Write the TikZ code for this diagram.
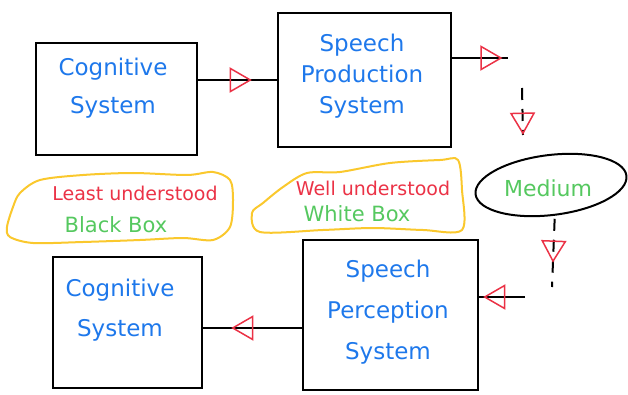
\documentclass[tikz,border=0pt]{standalone}
\usepackage{fontspec}
\setmainfont{DejaVu Sans}
\usetikzlibrary{shapes.geometric}
\definecolor{penblue}{RGB}{30,120,235}
\definecolor{penred}{RGB}{235,50,70}
\definecolor{pengreen}{RGB}{85,200,95}
\definecolor{penyellow}{RGB}{250,200,45}
\def\PenWidth{2pt}
\tikzset{
  sysbox/.style={draw, line width=\PenWidth, inner sep=0pt},
  boxtext/.style={text=penblue, align=center, font=\fontsize{23}{31}\selectfont},
  redtext/.style={text=penred, font=\fontsize{19}{22}\selectfont},
  greentext/.style={text=pengreen, font=\fontsize{21}{24}\selectfont},
  wire/.style={line width=\PenWidth},
  air/.style={line width=\PenWidth, dash pattern=on 12pt off 9pt},
  tri/.style={isosceles triangle, isosceles triangle apex angle=60, draw=penred, solid,
    line width=1.5pt, inner sep=0pt, minimum size=20pt, sloped, allow upside down},
  blob/.style={draw=penyellow, line width=2pt},
  medium/.style={ellipse, draw, line width=\PenWidth, minimum width=152pt,
    minimum height=60pt, rotate=7}
}
\begin{document}
\begin{tikzpicture}[x=1pt,y=-1pt]
  \useasboundingbox (0,0) rectangle (628,395);
  % systems
  \node[sysbox, minimum width=161pt, minimum height=112pt] (cogA) at (116,99) {};
  \node[sysbox, minimum width=173pt, minimum height=134pt] (prod) at (364,80) {};
  \node[sysbox, minimum width=149pt, minimum height=131pt] (cogB) at (127,322) {};
  \node[sysbox, minimum width=175pt, minimum height=150pt] (perc) at (390,315) {};
  \node[boxtext] (cogAtext) at (113,88) {Cognitive\\[7pt]System};
  \node[boxtext] (prodtext) at (362,76) {Speech\\Production\\System};
  \node[boxtext] (cogBtext) at (120,310) {Cognitive\\[9pt]System};
  \node[boxtext] (perctext) at (388,312) {Speech\\[10pt]Perception\\[10pt]System};
  % medium
  \node[medium] (med) at (551,185) {};
  \node[greentext, font=\fontsize{22}{26}\selectfont] (medtext) at (548,188) {Medium};
  % notes
  \draw[blob] plot[smooth cycle] coordinates {(20,193) (40,180) (83,175) (133,173)
    (187,175) (213,172) (230,180) (233,200) (230,227) (213,240) (183,238) (140,240)
    (83,242) (33,243) (10,237) (7,227) (13,207)};
  \draw[blob] plot[smooth cycle] coordinates {(307,173) (340,172) (390,163) (440,160)
    (458,160) (462,190) (462,230) (423,230) (373,228) (323,230) (260,232) (252,213)
    (263,203) (283,187)};
  \node[redtext] (least) at (135,193) {Least understood};
  \node[greentext] (black) at (116,225) {Black Box};
  \node[redtext] (well) at (373,188) {Well understood};
  \node[greentext] (white) at (357,214) {White Box};
  % connectors
  \coordinate (prodOut) at (508,58);
  \coordinate (airA) at (522,88);
  \coordinate (airB) at (523,135);
  \coordinate (airC) at (552,287);
  \coordinate (percIn) at (525,297);
  \draw[wire] (cogA.east |- prod.west) -- node[tri]{} (prod.west);
  \draw[wire] (prod.east |- prodOut) -- node[tri, pos=.64]{} (prodOut);
  \draw[air] (airA) -- node[tri, pos=.68]{} (airB);
  \draw[air, shorten <=3pt] (med.south) -- node[tri, pos=.45]{} (airC);
  \draw[wire] (percIn) -- node[tri, pos=.58]{} (perc.east |- percIn);
  \draw[wire] ([yshift=-13pt]perc.west) coordinate (percOut)
    -- node[tri, pos=.56]{} (cogB.east |- percOut);
\end{tikzpicture}
\end{document}
